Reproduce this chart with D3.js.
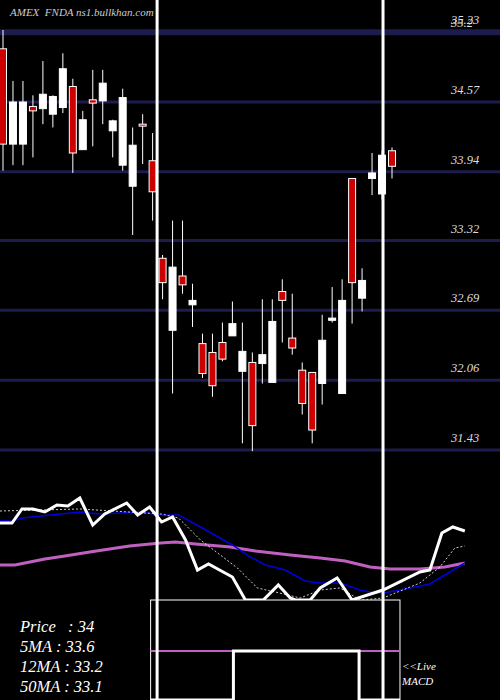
<!DOCTYPE html>
<html><head><meta charset="utf-8">
<script src="https://cdn.jsdelivr.net/npm/d3@7"></script>
<style>body{margin:0;background:#000}</style>
</head><body><div id="app"></div>
<script>
var W = 500, H = 700;

// candles: open, high, low, close
var opens  = [35.05,34.19,34.19,34.53,34.51,34.46,34.52,34.71,34.14,34.59,34.58,34.31,34.00,33.81,34.37,34.04,33.16,32.51,33.00,32.74,32.39,32.31,32.40,32.46,32.14,32.22,32.21,32.04,32.86,32.44,32.15,32.13,32.03,32.60,31.94,33.88,32.80,33.88,33.74,34.13];
var highs  = [35.22,34.76,34.76,34.63,34.94,34.63,35.01,34.78,34.49,34.86,34.86,34.41,34.69,34.34,34.46,34.29,33.19,33.50,33.50,32.93,32.48,32.48,32.58,32.77,32.58,32.31,32.79,32.79,32.97,32.84,32.22,32.13,32.65,32.90,32.97,33.88,33.07,34.11,34.13,34.16];
var lows   = [33.95,34.00,34.00,34.07,34.37,34.34,34.47,33.93,34.14,34.17,34.37,34.07,33.95,33.37,34.01,33.50,32.79,31.94,32.84,32.54,32.08,31.91,32.23,32.46,31.49,31.42,32.03,32.04,32.40,32.29,31.75,31.49,31.84,32.58,31.94,32.57,32.68,33.73,33.69,33.88];
var closes = [34.19,34.57,34.57,34.49,34.64,34.62,34.87,34.11,34.41,34.56,34.74,34.40,34.61,34.18,34.36,33.76,32.94,33.08,32.92,32.78,32.12,32.01,32.25,32.57,32.32,31.65,32.29,32.59,32.78,32.35,31.85,31.61,32.42,32.62,32.78,32.94,32.96,33.93,34.09,33.99];

var yTicks = [35.2, 34.57, 33.94, 33.32, 32.69, 32.06, 31.43];
var topLabel = "35.23";

// lower panel lines: [candle index, level]
var priceLine = [[-0.3,77],[0.9,77],[1.9,91],[3,91],[4.2,88],[5.4,95],[6.5,94],[7.7,102],[9,75],[10.2,86],[12.4,97],[13.5,85],[14.7,93],[15.9,78],[17,83],[18.3,60],[19.5,30],[20.6,36],[23,23],[24.3,0],[26.1,0],[27.6,15],[28.8,2],[29.3,0],[30.8,0],[31.8,12],[33.5,22],[35,0],[38.1,10],[41.8,28],[42.8,30],[44,67],[45.1,73],[46.3,69]];
var ma5 = [[-0.3,89],[7.7,91],[15.9,86],[17.6,82],[19.8,60],[23.5,32],[25.5,12],[27.3,8],[29.8,2],[31.8,10],[33.8,12],[35.8,0],[38.1,2],[41.8,17],[43.8,33],[45.3,52],[46.3,54]];
var ma12 = [[-0.3,79],[0.9,79],[1.9,82],[7.7,88],[9.7,86],[13.7,88],[15.9,85],[17.6,85],[19.8,73],[23,55],[24.8,43],[26.3,35],[28.3,30],[30.3,19],[31.8,17],[33.8,17],[35.8,10],[37.3,7],[38.1,7],[39.8,10],[42.8,16],[44.8,28],[46.3,37]];
var ma50 = [[-0.3,35],[1.2,35],[4.2,41],[6.2,44],[8.7,48],[12.7,54],[15.8,57],[17.3,58],[19.3,56],[22.8,53],[25.3,49],[28.8,45],[31.8,42],[34.3,39],[36.8,33],[38.8,31],[41.8,31],[44.3,33],[46.3,37]];
var macd = [[14.8,0],[23.1,1],[35.7,0],[39.8,0]];

var infoLines = ["Price   : 34", "5MA : 33.6", "12MA : 33.2", "50MA : 33.1"];
var splitIdx = [15.45, 38.1];

var x = d3.scaleLinear().domain([0, 39]).range([3, 392]);
var y = d3.scaleLinear().domain([31.43, 34.57]).range([450, 102]);
var yMa = d3.scaleLinear().domain([0, 100]).range([600, 500]);
var yMacd = d3.scaleLinear().domain([0, 1]).range([700, 651]);

var svg = d3.select("#app").append("svg").attr("width", W).attr("height", H)
    .style("background", "#000");
svg.append("rect").attr("width", W).attr("height", H).attr("fill", "#000");

//GRID
svg.selectAll(".grid").data(yTicks).enter().append("line")
    .attr("x1", 0).attr("x2", W)
    .attr("y1", function (d) { return y(d); }).attr("y2", function (d) { return y(d); })
    .attr("stroke", "#1c1c4e")
    .attr("stroke-width", function (d, i) { return i === 0 ? 6 : 3; });

var fontF = "'Liberation Serif','DejaVu Serif',serif";
svg.selectAll(".ylab").data(yTicks).enter().append("text")
    .attr("x", 451).attr("y", function (d, i) { return y(d) - (i === 0 ? 5 : 8); })
    .attr("fill", "#ddd").attr("font-family", fontF).attr("font-style", "italic")
    .attr("font-size", 12.5)
    .text(function (d) { return d; });
svg.append("text").attr("x", 451).attr("y", 24).attr("fill", "#ddd")
    .attr("font-family", fontF).attr("font-style", "italic").attr("font-size", 12.5)
    .text(topLabel);

svg.append("text").attr("x", 10).attr("y", 16).attr("fill", "#ccc")
    .attr("font-family", fontF).attr("font-style", "italic").attr("font-size", 11)
    .attr("xml:space", "preserve").text("AMEX  FNDA ns1.bullkhan.com");

//CANDLES
var idx = d3.range(opens.length);
svg.selectAll(".wick").data(idx).enter().append("line")
    .attr("x1", function (i) { return x(i); }).attr("x2", function (i) { return x(i); })
    .attr("y1", function (i) { return y(highs[i]); }).attr("y2", function (i) { return y(lows[i]); })
    .attr("stroke", "#fff").attr("stroke-width", 1);
svg.selectAll(".body").data(idx).enter().append("rect")
    .attr("x", function (i) { return x(i) - 3.5; })
    .attr("y", function (i) { return y(Math.max(opens[i], closes[i])); })
    .attr("width", 7)
    .attr("height", function (i) { return Math.max(2, Math.abs(y(opens[i]) - y(closes[i]))); })
    .attr("fill", function (i) { return closes[i] < opens[i] ? "#cc0000" : "#fff"; })
    .attr("stroke", "#fff").attr("stroke-width", 1);

//MA PANEL
function drawLine(data, scale, color, width, dash, curve) {
    svg.append("path").datum(data)
        .attr("d", d3.line().x(function (d) { return x(d[0]); }).y(function (d) { return scale(d[1]); })
            .curve(curve || d3.curveLinear))
        .attr("fill", "none").attr("stroke", color).attr("stroke-width", width)
        .attr("stroke-dasharray", dash || null);
}
drawLine(ma50, yMa, "#c060c0", 3);
drawLine(ma12, yMa, "#0000dd", 1.5);
drawLine(ma5, yMa, "#fff", 0.8, "2,2");
drawLine(priceLine, yMa, "#fff", 3);

//MACD BOX
svg.append("rect").attr("x", x(14.8)).attr("y", 600)
    .attr("width", x(39.8) - x(14.8)).attr("height", 110)
    .attr("fill", "#000").attr("stroke", "#fff").attr("stroke-width", 1);
svg.append("line").attr("x1", x(14.8)).attr("x2", x(39.8))
    .attr("y1", yMacd(1)).attr("y2", yMacd(1)).attr("stroke", "#c060c0").attr("stroke-width", 2);
drawLine(macd, yMacd, "#fff", 3, null, d3.curveStepAfter);

//SPLITS
svg.selectAll(".split").data(splitIdx).enter().append("line")
    .attr("x1", function (d) { return x(d); }).attr("x2", function (d) { return x(d); })
    .attr("y1", 0).attr("y2", H).attr("stroke", "#fff").attr("stroke-width", 3);

svg.selectAll(".info").data(infoLines).enter().append("text")
    .attr("x", 20).attr("y", function (d, i) { return 632 + i * 20; })
    .attr("fill", "#fff").attr("font-family", fontF).attr("font-style", "italic")
    .attr("font-size", 16.5).attr("xml:space", "preserve")
    .text(function (d) { return d; });
svg.selectAll(".live").data(["<<Live", "MACD"]).enter().append("text")
    .attr("x", 402).attr("y", function (d, i) { return 670 + i * 15; })
    .attr("fill", "#fff").attr("font-family", fontF).attr("font-style", "italic")
    .attr("font-size", 11).text(function (d) { return d; });
</script></body></html>
